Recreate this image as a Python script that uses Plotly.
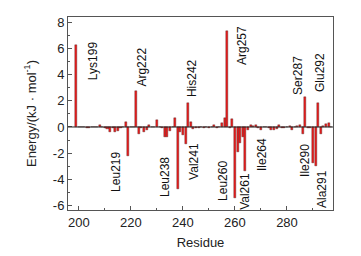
import plotly.graph_objects as go

residues = list(range(199, 298))
energies = [
    6.25, 0, 0, 0, -0.05, -0.05, 0, 0, 0, 0.15,        # 199-208
    0, -0.05, -0.15, -0.35, -0.1, -0.35, -0.3, -0.05, 0, 0.4,  # 209-218
    -2.2, 0, 0, 2.75, -0.5, -0.1, -0.35, -0.2, 0.15, 0,  # 219-228
    0, 0.55, 0, -0.05, -0.8, -0.8, -0.3, 0, 0.65, -4.7,  # 229-238
    -0.4, -0.6, -1.3, 1.8, 0.35, -0.15, -0.05, -0.05, 0.03, -0.05,  # 239-248
    0.03, -0.05, 0, 0.15, -0.05, 0, 0.3, 0.7, 7.35, -0.1,  # 249-258
    0.6, -5.4, -1.9, -1.2, -0.8, -3.35, -0.25, 0.15, 0.05, 0.15,  # 259-268
    -0.05, -0.25, 0, 0, -0.05, -0.2, -0.2, -0.15, 0.15, -0.05,  # 269-278
    -0.1, 0, 0.05, -0.25, 0, 0.1, 0.15, -0.5, 2.3, -0.05,  # 279-288
    -0.1, -2.75, -2.95, 1.85, -0.55, 0.05, 0.25, 0.3, 0,  # 289-297
]

y_tick_vals = [-6, -4, -2, 0, 2, 4, 6, 8]
y_tick_text = ["-6", "-4", "-2", "0", "2", "4", "6", "8"]
x_tick_vals = [200, 220, 240, 260, 280]
x_tick_text = ["200", "220", "240", "260", "280"]

label_texts = ["Lys199", "Arg222", "His242", "Arg257", "Ser287", "Glu292",
               "Leu219", "Leu238", "Val241", "Leu260", "Val261", "Ile264",
               "Ile290", "Ala291"]
label_x = [205.4, 224.2, 243.5, 262.7, 284.2, 292.7,
           214.2, 233.1, 244.2, 255.4, 263.8, 270.4, 286.9, 293.5]
label_y = [5.1, 4.6, 3.74, 6.26, 3.97, 4.12,
           -3.44, -3.82, -2.6, -4.12, -4.89, -2.14, -2.52, -4.73]

font_family = "Liberation Sans, Arial, sans-serif"

fig = go.Figure()
fig.add_trace(go.Bar(
    x=residues, y=energies, width=0.8,
    marker=dict(color="#f01c1c", line=dict(color="#4a2020", width=0.4)),
    showlegend=False,
))

for t, xx, yy in zip(label_texts, label_x, label_y):
    fig.add_annotation(x=xx, y=yy, text=t, textangle=-90, showarrow=False,
                       font=dict(family=font_family, size=12, color="#111"),
                       xanchor="center", yanchor="middle")

fig.add_shape(type="line", xref="paper", yref="y", x0=0, x1=1, y0=0, y1=0,
              line=dict(color="#222", width=1))

axis_common = dict(
    showgrid=False, zeroline=False, showline=True, linecolor="#555",
    linewidth=1, mirror=True, ticks="inside", ticklen=4, tickcolor="#555",
    tickfont=dict(family=font_family, size=13, color="#222"),
    automargin=False,
)

fig.update_xaxes(range=[195.8, 297.7], tickmode="array",
                 tickvals=x_tick_vals, ticktext=x_tick_text,
                 minor=dict(dtick=10, tick0=200, ticks="inside", ticklen=2, tickcolor="#555"),
                 title=dict(text="Residue", font=dict(family=font_family, size=13, color="#222"), standoff=9),
                 **axis_common)
fig.update_yaxes(range=[-6.34, 8.4], tickmode="array",
                 tickvals=y_tick_vals, ticktext=y_tick_text,
                 minor=dict(dtick=1, tick0=0, ticks="inside", ticklen=2, tickcolor="#555"),
                 title=dict(text="Energy/(kJ · mol<sup>-1</sup>)", font=dict(family=font_family, size=13, color="#222"), standoff=13),
                 **axis_common)

fig.update_layout(
    width=353, height=248,
    margin=dict(l=60, r=28, t=9, b=46),
    paper_bgcolor="white", plot_bgcolor="white",
    bargap=0,
)

fig.write_html("out.html")
